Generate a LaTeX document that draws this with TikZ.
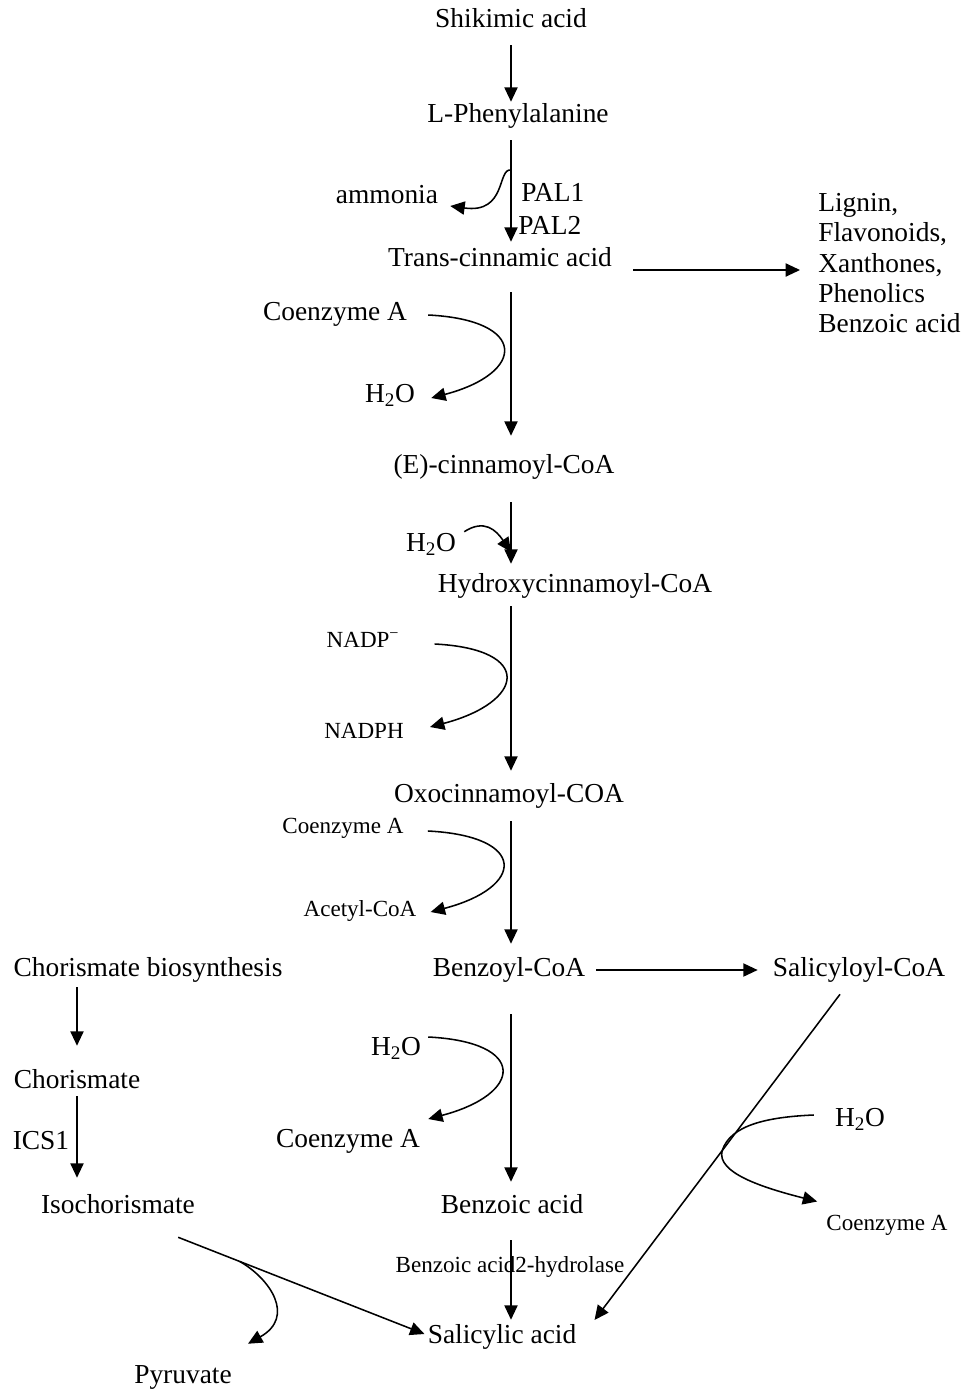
\documentclass[tikz,border=0pt]{standalone}
\usepackage{fontspec}
\setmainfont{Liberation Serif}
\usetikzlibrary{arrows.meta,calc}

% one unit = one pixel of the sketch
\def\u{0.025cm}

\tikzset{
	cmpd/.style={anchor=base, inner sep=0pt, text height=0.45cm, text depth=0.15cm,
		font=\fontsize{19.5pt}{21.6pt}\selectfont},
	sidecmpd/.style={anchor=base, inner sep=0pt, text height=0.38cm, text depth=0.13cm,
		font=\fontsize{16.4pt}{19pt}\selectfont},
	rxn/.style={line width=1.1pt, -{Triangle[length=0.36cm,width=0.33cm]}},
	plainrxn/.style={line width=1.1pt}
}

\begin{document}
\begin{tikzpicture}[x=0.025cm, y=-0.025cm]
	\useasboundingbox (0,0) rectangle (977,1389);
	
	%Main chain
	\node[cmpd] (shik) at (511,27) {Shikimic acid};
	\node[cmpd] (lphe) at (518,122) {L-Phenylalanine};
	\node[cmpd] (trans) at (500,266) {Trans-cinnamic acid};
	\node[cmpd] (ecin) at (504,473) {(E)-cinnamoyl-CoA};
	\node[cmpd] (hyd) at (575,592) {Hydroxycinnamoyl-CoA};
	\node[cmpd] (oxo) at (509,802) {Oxocinnamoyl-COA};
	\node[cmpd] (benzcoa) at (509,976) {Benzoyl-CoA};
	\node[cmpd] (benzac) at (512,1213) {Benzoic acid};
	\node[cmpd] (salac) at (502,1343) {Salicylic acid};
	\coordinate (trunk) at (511,0);
	
	%Side products
	\node[cmpd] (amm) at (387,203) {ammonia};
	\node[cmpd, anchor=base west] (pal1) at (521,201) {PAL1};
	\node[cmpd, anchor=base west] (pal2) at (518,234) {PAL2};
	\node[anchor=north west, inner sep=0pt, align=left, font=\fontsize{19.5pt}{21.6pt}\selectfont]
		(lignin) at (818,193) {Lignin,\\Flavonoids,\\Xanthones,\\Phenolics\\Benzoic acid};
	\node[cmpd] (coa1) at (335,320) {Coenzyme A};
	\node[cmpd] (h2oa) at (390,402) {H\textsubscript{2}O};
	\node[cmpd] (h2ob) at (431,551) {H\textsubscript{2}O};
	\node[sidecmpd] (nadp) at (363,647) {NADP\textsuperscript{−}};
	\node[sidecmpd] (nadph) at (364,738) {NADPH};
	\node[sidecmpd] (coa2) at (343,833) {Coenzyme A};
	\node[sidecmpd] (acet) at (360,916) {Acetyl-CoA};
	\node[cmpd] (h2oc) at (396,1055) {H\textsubscript{2}O};
	\node[cmpd] (coa3) at (348,1147) {Coenzyme A};
	\node[sidecmpd] (hydrolase) at (510,1272) {Benzoic acid2-hydrolase};
	
	%Salicyloyl branch
	\node[cmpd] (salcoa) at (859,976) {Salicyloyl-CoA};
	\node[cmpd] (h2od) at (860,1126) {H\textsubscript{2}O};
	\node[sidecmpd] (coa4) at (887,1230) {Coenzyme A};
	
	%Chorismate branch
	\node[cmpd] (chbio) at (148,976) {Chorismate biosynthesis};
	\node[cmpd] (chor) at (77,1088) {Chorismate};
	\node[cmpd] (ics) at (41,1149) {ICS1};
	\node[cmpd] (isoch) at (118,1213) {Isochorismate};
	\node[cmpd] (pyr) at (183,1383) {Pyruvate};
	\coordinate (chx) at (77,0);
	
	%Arrows down the main chain
	\draw[rxn, shorten <=12*\u, shorten >=2*\u] (shik.south -| trunk) -- (lphe.north -| trunk);
	\draw[rxn, shorten <=12*\u, shorten >=6*\u] (lphe.south -| trunk) -- (trans.north -| trunk);
	\draw[rxn, shorten <=20*\u, shorten >=19*\u] (trans.south -| trunk) -- (ecin.north -| trunk);
	\draw[rxn, shorten <=23*\u, shorten >=10*\u] (ecin.south -| trunk) -- (hyd.north -| trunk);
	\draw[rxn, shorten <=8*\u, shorten >=13*\u] (hyd.south -| trunk) -- (oxo.north -| trunk);
	\draw[rxn, shorten <=13*\u, shorten >=14*\u] (oxo.south -| trunk) -- (benzcoa.north -| trunk);
	\draw[rxn, shorten <=32*\u, shorten >=13*\u] (benzcoa.south -| trunk) -- (benzac.north -| trunk);
	\draw[rxn, shorten <=21*\u, shorten >=5*\u] (benzac.south -| trunk) -- (salac.north -| trunk);
	
	%Ammonia leaving
	\coordinate (nh) at (511,170);
	\draw[rxn] (nh) .. controls (497,168) and (507,214) .. ([shift={(12,9)}]amm.east);
	
	%To lignin and the others
	\coordinate (tc) at ([shift={(21,10)}]trans.east);
	\draw[rxn, shorten >=18*\u] (tc) -- (tc -| lignin.west);
	
	%Loops beside the trunk
	\draw[rxn] ([shift={(21,1)}]coa1.east) .. controls +(100,5) and +(95,-25) .. ([shift={(16,2)}]h2oa.east);
	\coordinate (wat) at (511,552);
	\draw[rxn] ([shift={(8,-1)}]h2ob.north east) .. controls +(20,-13) and +(-15,-22) .. (wat);
	\draw[rxn] ([shift={(35,2)}]nadp.east) .. controls +(100,5) and +(95,-25) .. ([shift={(26,-6)}]nadph.east);
	\draw[rxn] ([shift={(24,3)}]coa2.east) .. controls +(100,5) and +(95,-25) .. ([shift={(14,1)}]acet.east);
	\draw[rxn] ([shift={(7,-12)}]h2oc.east) .. controls +(100,5) and +(95,-25) .. ([shift={(8,-22)}]coa3.east);
	
	%Benzoyl-CoA to Salicyloyl-CoA
	\draw[rxn, shorten <=11*\u, shorten >=15*\u] (benzcoa.east) -- (salcoa.west);
	
	%Salicyloyl-CoA to salicylic acid
	\draw[rxn] ([shift={(-19,12)}]salcoa.south) -- ([shift={(18,-17)}]salac.east)
		coordinate[pos=0.48] (hydr);
	\draw[rxn] ([shift={(-21,-5)}]h2od.west) .. controls +(-48,2) and +(8,-25) .. (hydr)
		.. controls +(-6,22) and +(-55,-14) .. ([shift={(-9,-13)}]coa4.north west);
	
	%Chorismate route
	\draw[rxn, shorten <=5*\u, shorten >=24*\u] (chbio.south -| chx) -- (chor.north -| chx);
	\draw[rxn, shorten <=2*\u, shorten >=17*\u] (chor.south -| chx) -- (isoch.north -| chx);
	\draw[rxn] ([shift={(-17,18)}]isoch.south east) -- ([shift={(-3,-3)}]salac.west)
		coordinate[pos=0.25] (pyrv);
	\draw[rxn] (pyrv) .. controls +(30,17) and +(48,-27) .. ([shift={(16,-21)}]pyr.north east);
	
\end{tikzpicture}
\end{document}
